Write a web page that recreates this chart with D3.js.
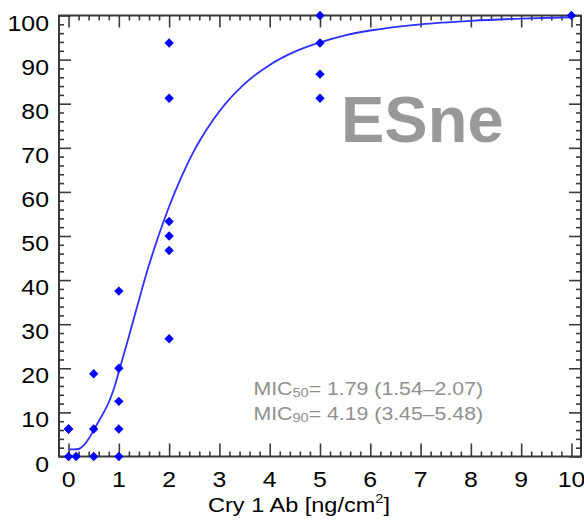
<!DOCTYPE html>
<html>
<head>
<meta charset="utf-8">
<script src="https://cdn.jsdelivr.net/npm/d3@7"></script>
<style>
  html, body { margin: 0; padding: 0; background: #fff; }
  svg { display: block; }
  text { font-family: "Liberation Sans", Arial, Helvetica, sans-serif; }
</style>
</head>
<body>
<svg id="chart" width="584" height="526"></svg>
<script>
// ---- data ----
const doseX   = [0, 0, 0.15, 0, 0.5, 0.5, 0.5, 1, 1, 1, 1, 1, 2, 2, 2, 2, 2, 2, 5, 5, 5, 5, 10];
const mortY   = [0, 6.25, 0, 6.25, 0, 6.25, 18.75, 0, 6.25, 12.5, 20, 37.5, 26.7, 46.7, 50, 53.3, 81.25, 93.75, 81.25, 86.7, 93.75, 100, 100];
const fitX    = [0, 0.1, 0.2, 0.3, 0.4, 0.5, 0.6, 0.7, 0.8, 0.9, 1.0, 1.2, 1.4, 1.6, 1.8, 2.0, 2.25, 2.5, 2.75, 3.0, 3.5, 4.0, 4.5, 5.0, 5.5, 6.0, 7.0, 8.0, 9.0, 10.0];
const fitY    = [1.6, 1.6, 1.7, 2.5, 4.0, 6.0, 8.0, 10.0, 12.3, 15.3, 19.2, 27.2, 35.5, 43.4, 50.4, 56.7, 63.5, 69.4, 74.2, 78.3, 84.5, 88.8, 91.8, 93.9, 95.5, 96.6, 98.0, 98.8, 99.3, 99.6];
const xMajorTicks = [0, 1, 2, 3, 4, 5, 6, 7, 8, 9, 10];
const yMajorTicks = [0, 10, 20, 30, 40, 50, 60, 70, 80, 90, 100];
const xMinorTicks = d3.range(0, 50).map(i => i / 5).filter(v => !Number.isInteger(v));
const yMinorTicks = d3.range(0, 101, 2).filter(v => v % 10 !== 0);
const xTitle = "Cry 1 Ab [ng/cm";
const xTitleSup = "2";
const xTitleEnd = "]";
const panelLabel = "ESne";
const micLines = [
  { pre: "MIC", sub: "50", post: "= 1.79 (1.54\u20132.07)" },
  { pre: "MIC", sub: "90", post: "= 4.19 (3.45\u20135.48)" }
];

// ---- layout ----
const L = 59, R = 581, T = 15.5, B = 456.5;
const svg = d3.select("#chart");
const x = d3.scaleLinear().domain([-0.19, 10.19]).range([L, R]);
const y = d3.scaleLinear().domain([0, 100]).range([B, T]);
const sx = 1.13; // horizontal stretch of the lettering
const axisColor = "#3a3a3a";

function styleAxis(g) {
  g.select(".domain").remove();
  g.selectAll(".tick line").attr("stroke", axisColor).attr("stroke-width", 1.6);
  g.selectAll("text").remove();
}

// minor & major ticks on all four sides (inward)
svg.append("g").attr("transform", `translate(0,${B})`)
  .call(d3.axisBottom(x).tickValues(xMajorTicks).tickSize(-13).tickSizeOuter(0)).call(styleAxis);
svg.append("g").attr("transform", `translate(0,${B})`)
  .call(d3.axisBottom(x).tickValues(xMinorTicks).tickSize(-5).tickSizeOuter(0)).call(styleAxis);
svg.append("g").attr("transform", `translate(0,${T})`)
  .call(d3.axisTop(x).tickValues(xMajorTicks).tickSize(-12).tickSizeOuter(0)).call(styleAxis);
svg.append("g").attr("transform", `translate(0,${T})`)
  .call(d3.axisTop(x).tickValues(xMinorTicks).tickSize(-5).tickSizeOuter(0)).call(styleAxis);
svg.append("g").attr("transform", `translate(${L},0)`)
  .call(d3.axisLeft(y).tickValues(yMajorTicks).tickSize(-12).tickSizeOuter(0)).call(styleAxis);
svg.append("g").attr("transform", `translate(${L},0)`)
  .call(d3.axisLeft(y).tickValues(yMinorTicks).tickSize(-5).tickSizeOuter(0)).call(styleAxis);
svg.append("g").attr("transform", `translate(${R},0)`)
  .call(d3.axisRight(y).tickValues(yMajorTicks).tickSize(-12).tickSizeOuter(0)).call(styleAxis);
svg.append("g").attr("transform", `translate(${R},0)`)
  .call(d3.axisRight(y).tickValues(yMinorTicks).tickSize(-5).tickSizeOuter(0)).call(styleAxis);

// frame
svg.append("rect").attr("x", L).attr("y", T).attr("width", R - L).attr("height", B - T)
  .attr("fill", "none").attr("stroke", axisColor).attr("stroke-width", 2);

// tick labels
svg.append("g").selectAll("g").data(xMajorTicks).join("g")
  .attr("transform", d => `translate(${x(d)},${B + 30})`)
  .append("text").attr("text-anchor", "middle").attr("font-size", 22).attr("fill", "#000")
  .attr("transform", `scale(${sx},1)`).text(d => d);
svg.append("g").selectAll("g").data(yMajorTicks).join("g")
  .attr("transform", d => `translate(49,${y(d) + 15})`)
  .append("text").attr("text-anchor", "end").attr("font-size", 22).attr("fill", "#000")
  .attr("transform", `scale(${sx},1)`).text(d => d);

// x title
const tt = svg.append("g").attr("transform", `translate(299,512)`)
  .append("text").attr("text-anchor", "middle").attr("font-size", 21).attr("fill", "#000")
  .attr("transform", `scale(1.12,1)`);
tt.append("tspan").text(xTitle);
tt.append("tspan").attr("font-size", 13).attr("dy", -9).text(xTitleSup);
tt.append("tspan").attr("dy", 9).text(xTitleEnd);

// fitted curve
const line = d3.line().x((d, i) => x(fitX[i])).y(d => y(d)).curve(d3.curveMonotoneX);
svg.append("path").datum(fitY).attr("d", line)
  .attr("fill", "none").attr("stroke", "#2f2fff").attr("stroke-width", 1.8);

// points
const diamond = d3.symbol().type(d3.symbolSquare).size(44);
svg.append("g").selectAll("path").data(doseX).join("path")
  .attr("d", diamond)
  .attr("transform", (d, i) => `translate(${x(d)},${y(mortY[i])}) rotate(45)`)
  .attr("fill", "#0000ff");

// panel label
svg.append("text").attr("x", 341).attr("y", 141.5).attr("font-size", 65).attr("font-weight", "bold")
  .attr("fill", "#999999").text(panelLabel);

// MIC annotation
micLines.forEach((m, i) => {
  const t = svg.append("g").attr("transform", `translate(253.5,${394.5 + i * 25})`)
    .append("text").attr("font-size", 19).attr("fill", "#8f8f8f")
    .attr("transform", `scale(1.12,1)`);
  t.append("tspan").text(m.pre);
  t.append("tspan").attr("font-size", 13).attr("dy", 2.5).text(m.sub);
  t.append("tspan").attr("dy", -2.5).text(m.post);
});
</script>
</body>
</html>
